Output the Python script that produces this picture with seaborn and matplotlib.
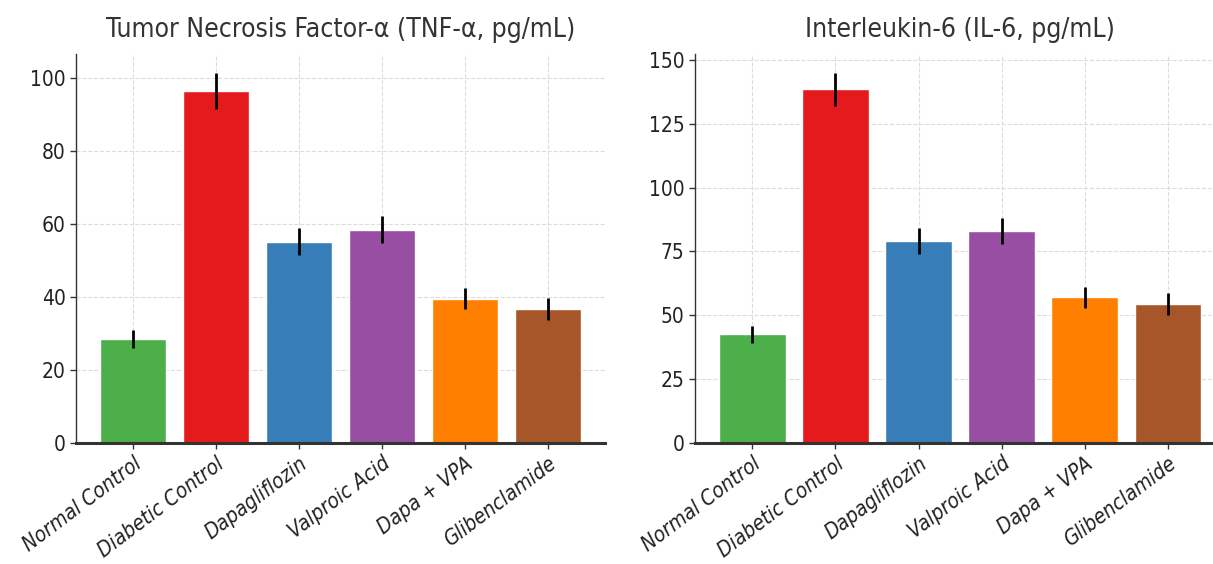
import matplotlib
matplotlib.use("Agg")
import matplotlib.pyplot as plt
import seaborn as sns
import pandas as pd
import numpy as np

groups = ["Normal Control", "Diabetic Control", "Dapagliflozin", "Valproic Acid", "Dapa + VPA", "Glibenclamide"]
tnf_mean = [28.5, 96.5, 55.2, 58.4, 39.6, 36.8]
tnf_err = [2.5, 5.0, 3.7, 3.7, 2.8, 3.0]
il6_mean = [42.5, 138.5, 79.0, 83.0, 57.0, 54.5]
il6_err = [3.5, 6.5, 5.0, 5.0, 4.0, 4.2]
colors = ["#4daf4a", "#e41a1c", "#377eb8", "#984ea3", "#ff7f00", "#a65628"]
titles = ["Tumor Necrosis Factor-\u03b1 (TNF-\u03b1, pg/mL)", "Interleukin-6 (IL-6, pg/mL)"]

sns.set_theme(style="whitegrid")
plt.rcParams['font.family'] = ['DejaVu Sans']
plt.rcParams['font.stretch'] = 'condensed'

fig = plt.figure(figsize=(12.13, 5.64), dpi=100)
ax1 = fig.add_axes([0.0627, 0.2145, 0.436, 0.6895])
ax2 = fig.add_axes([0.573, 0.2145, 0.437, 0.6895])

for ax, means, errs, title in [(ax1, tnf_mean, tnf_err, titles[0]), (ax2, il6_mean, il6_err, titles[1])]:
    df = pd.DataFrame({"group": groups, "value": means})
    sns.barplot(data=df, x="group", y="value", hue="group", palette=colors, legend=False,
                ax=ax, width=0.8, saturation=1, errorbar=None, zorder=2)
    ax.errorbar(np.arange(len(groups)), means, yerr=errs, fmt="none", ecolor="black",
                elinewidth=2, capsize=0, zorder=3)
    ax.set_xlim(-0.69, 5.69)
    ax.autoscale(axis="y")
    ax.set_ylim(bottom=0)
    ax.set_title(title, fontsize=19, color="#333333", pad=12, fontstretch="condensed")
    ax.set_xlabel("")
    ax.set_ylabel("")
    ax.grid(True, linestyle="--", linewidth=0.8, color="#dcdcdc")
    ax.set_axisbelow(True)
    for s in ["top", "right"]:
        ax.spines[s].set_visible(False)
    ax.spines["bottom"].set_color("#333333")
    ax.spines["bottom"].set_linewidth(2.2)
    ax.spines["left"].set_color("#333333")
    ax.spines["left"].set_linewidth(1.0)
    ax.tick_params(axis="y", left=True, length=4, width=1, color="#333333", labelsize=15, labelcolor="#222222")
    ax.tick_params(axis="x", bottom=True, length=4, width=1, color="#333333", labelsize=15, labelcolor="#222222")
    for lab in ax.get_xticklabels():
        lab.set_rotation(37)
        lab.set_ha("right")
        lab.set_rotation_mode("anchor")
        lab.set_style("italic")
        lab.set_fontstretch("condensed")

ax1.set_yticks([0, 20, 40, 60, 80, 100])
ax2.set_yticks([0, 25, 50, 75, 100, 125, 150])

fig.savefig("out.png", dpi=100)
